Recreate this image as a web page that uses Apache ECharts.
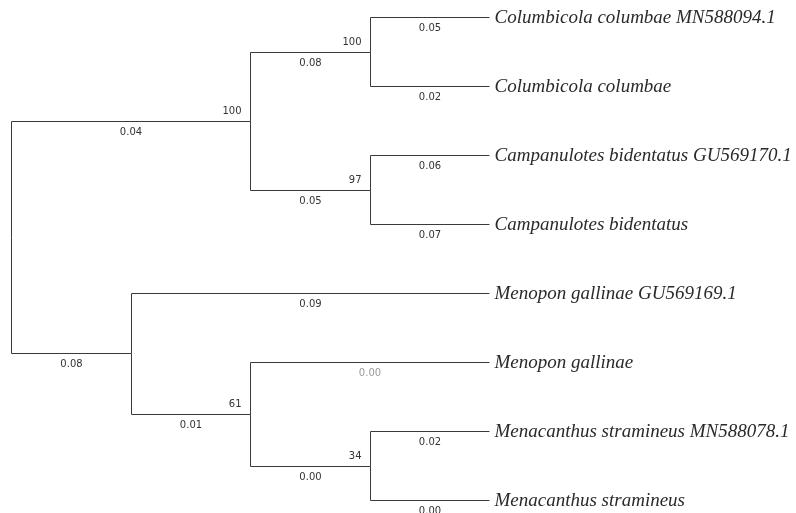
<!DOCTYPE html>
<html>
<head>
<meta charset="utf-8">
<script src="https://cdn.jsdelivr.net/npm/echarts@6/dist/echarts.min.js"></script>
<style>html,body{margin:0;padding:0;background:#fff;}#c{width:796px;height:513px;}</style>
</head>
<body>
<div id="c"></div>
<script>
// Tree topology (cladogram, preorder)
const nodeIds      = ['root','n1','n2','L0','L1','n3','L2','L3','n4','L4','n5','L5','n6','L6','L7'];
const nodeParent   = [null,'root','n1','n2','n2','n1','n3','n3','root','n4','n4','n5','n5','n6','n6'];
const nodeDepth    = [0,2,3,4,4,3,4,4,1,4,2,4,3,4,4];
const branchLength = [null,'0.04','0.08','0.05','0.02','0.05','0.06','0.07','0.08','0.09','0.01','0.00','0.00','0.02','0.00'];
const bootstrap    = [null,'100','100',null,null,'97',null,null,null,null,'61',null,'34',null,null];
const leafNames    = {
  L0:'Columbicola columbae MN588094.1',
  L1:'Columbicola columbae',
  L2:'Campanulotes bidentatus GU569170.1',
  L3:'Campanulotes bidentatus',
  L4:'Menopon gallinae GU569169.1',
  L5:'Menopon gallinae',
  L6:'Menacanthus stramineus MN588078.1',
  L7:'Menacanthus stramineus'
};
const greyLengthNodes = ['L5'];

// compute y positions: leaves in order, internal = mean of children
const yPos = {};
let leafIdx = 0;
nodeIds.forEach(id => { if (leafNames[id] !== undefined) yPos[id] = leafIdx++; });
function computeY(id){
  if (yPos[id] !== undefined) return yPos[id];
  const kids = nodeIds.filter((k,i)=>nodeParent[i]===id);
  const v = kids.map(computeY).reduce((a,b)=>a+b,0)/kids.length;
  yPos[id]=v; return v;
}
nodeIds.forEach(computeY);

const data = nodeIds.map((id,i)=>{
  const p = nodeParent[i];
  const pi = p ? nodeIds.indexOf(p) : i;
  return [nodeDepth[i], yPos[id], nodeDepth[pi], yPos[p||id], i];
});

const chart = echarts.init(document.getElementById('c'));
chart.setOption({
  animation:false,
  backgroundColor:'#fff',
  grid:{left:11, right:307, top:17, bottom:13},
  xAxis:{type:'value', min:0, max:4, show:false},
  yAxis:{type:'value', min:0, max:7, inverse:true, show:false},
  series:[{
    type:'custom',
    coordinateSystem:'cartesian2d',
    silent:true,
    data:data,
    encode:{x:[0,2], y:[1,3]},
    renderItem:function(params, api){
      const i = api.value(4);
      const id = nodeIds[i];
      const children = [];
      const c = api.coord([api.value(0), api.value(1)]);
      const cx = Math.round(c[0])+0.5, cy = Math.round(c[1])+0.5;
      if (nodeParent[i]) {
        const p = api.coord([api.value(2), api.value(3)]);
        const px = Math.round(p[0])+0.5, py = Math.round(p[1])+0.5;
        children.push({type:'polyline', shape:{points:[[px,py],[px,cy],[cx,cy]]},
          style:{stroke:'#3a3a3a', lineWidth:1, fill:null}});
        const grey = greyLengthNodes.indexOf(id) >= 0;
        children.push({type:'text', style:{text:branchLength[i], x:(px+cx)/2, y:cy+11,
          align:'center', verticalAlign:'middle', font:'10px "DejaVu Sans"', fill: grey ? '#9a9a9a' : '#333'}});
      }
      if (bootstrap[i]) {
        children.push({type:'text', style:{text:bootstrap[i], x:cx-9, y:cy-10,
          align:'right', verticalAlign:'middle', font:'10px "DejaVu Sans"', fill:'#333'}});
      }
      if (leafNames[id] !== undefined) {
        children.push({type:'text', style:{text:leafNames[id], x:cx+5, y:cy,
          align:'left', verticalAlign:'middle', font:'italic 19px "Liberation Serif"', fill:'#2a2a2a'}});
      }
      return {type:'group', children:children};
    }
  }]
});
</script>
</body>
</html>
